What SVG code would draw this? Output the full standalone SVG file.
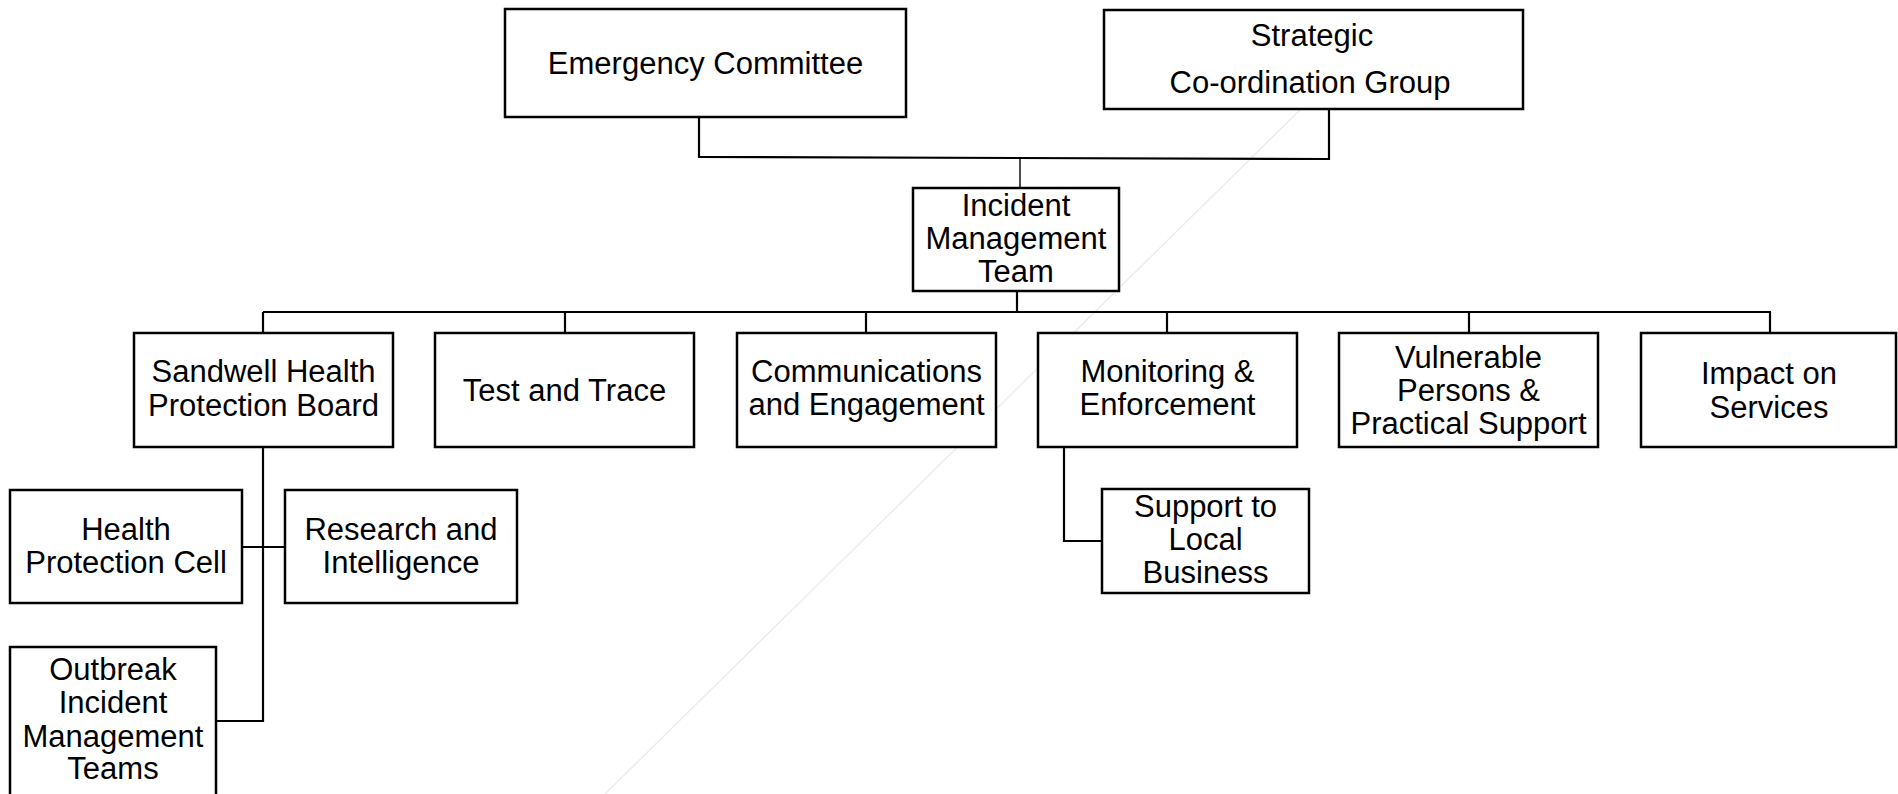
<svg xmlns="http://www.w3.org/2000/svg" width="1898" height="794" viewBox="0 0 1898 794">
<style>
.box{fill:#fff;stroke:#000;stroke-width:2.5}
.t{font-family:"Liberation Sans",Arial,sans-serif;font-size:31px;fill:#000;text-anchor:middle}
.c{fill:none;stroke:#000;stroke-width:2.2}
.thin{fill:none;stroke:#000;stroke-width:1.4}
</style>
<rect width="1898" height="794" fill="#fff"/>
<line x1="1300" y1="110" x2="605" y2="794" stroke="#ececec" stroke-width="1.5"/>
<g id="connectors">
<polyline class="c" points="699,117 699,157 1329,159 1329,109"/>
<line class="thin" x1="1020" y1="158" x2="1020" y2="188"/>
<line class="c" x1="1017" y1="291" x2="1017" y2="312"/>
<line class="c" x1="263" y1="312" x2="1771" y2="312"/>
<line class="c" x1="263" y1="312" x2="263" y2="333"/>
<line class="c" x1="565" y1="312" x2="565" y2="333"/>
<line class="c" x1="866" y1="312" x2="866" y2="333"/>
<line class="c" x1="1167" y1="312" x2="1167" y2="333"/>
<line class="c" x1="1469" y1="312" x2="1469" y2="333"/>
<line class="c" x1="1770" y1="312" x2="1770" y2="333"/>
<line class="c" x1="263" y1="447" x2="263" y2="722"/>
<line class="c" x1="242" y1="547" x2="285" y2="547"/>
<line class="c" x1="216" y1="721" x2="264" y2="721"/>
<polyline class="c" points="1064,446 1064,541 1102,541"/>
</g>
<g id="emergency-committee">
<rect class="box" x="505" y="9" width="401" height="108"/>
<text class="t" x="705.5" y="74">Emergency Committee</text>
</g>
<g id="strategic-coordination-group">
<rect class="box" x="1104" y="10" width="419" height="99"/>
<text class="t" x="1312" y="46">Strategic</text>
<text class="t" x="1310" y="93">Co-ordination Group</text>
</g>
<g id="incident-management-team">
<rect class="box" x="913" y="188" width="206" height="103"/>
<text class="t" x="1016" y="216">Incident</text>
<text class="t" x="1016" y="249">Management</text>
<text class="t" x="1016" y="282">Team</text>
</g>
<g id="sandwell-health-protection-board">
<rect class="box" x="134" y="333" width="259" height="114"/>
<text class="t" x="263.5" y="382">Sandwell Health</text>
<text class="t" x="263.5" y="416">Protection Board</text>
</g>
<g id="test-and-trace">
<rect class="box" x="435" y="333" width="259" height="114"/>
<text class="t" x="564.5" y="401">Test and Trace</text>
</g>
<g id="communications-and-engagement">
<rect class="box" x="737" y="333" width="259" height="114"/>
<text class="t" x="866.5" y="382">Communications</text>
<text class="t" x="866.5" y="415">and Engagement</text>
</g>
<g id="monitoring-and-enforcement">
<rect class="box" x="1038" y="333" width="259" height="114"/>
<text class="t" x="1167.5" y="382">Monitoring &amp;</text>
<text class="t" x="1167.5" y="415">Enforcement</text>
</g>
<g id="vulnerable-persons">
<rect class="box" x="1339" y="333" width="259" height="114"/>
<text class="t" x="1468.5" y="368">Vulnerable</text>
<text class="t" x="1468.5" y="401">Persons &amp;</text>
<text class="t" x="1468.5" y="434">Practical Support</text>
</g>
<g id="impact-on-services">
<rect class="box" x="1641" y="333" width="255" height="114"/>
<text class="t" x="1769" y="384">Impact on</text>
<text class="t" x="1769" y="418">Services</text>
</g>
<g id="health-protection-cell">
<rect class="box" x="10" y="490" width="232" height="113"/>
<text class="t" x="126" y="540">Health</text>
<text class="t" x="126" y="573">Protection Cell</text>
</g>
<g id="research-and-intelligence">
<rect class="box" x="285" y="490" width="232" height="113"/>
<text class="t" x="401" y="540">Research and</text>
<text class="t" x="401" y="573">Intelligence</text>
</g>
<g id="outbreak-incident-management-teams">
<rect class="box" x="10" y="647" width="206" height="160"/>
<text class="t" x="113" y="680">Outbreak</text>
<text class="t" x="113" y="713">Incident</text>
<text class="t" x="113" y="747">Management</text>
<text class="t" x="113" y="779">Teams</text>
</g>
<g id="support-to-local-business">
<rect class="box" x="1102" y="489" width="207" height="104"/>
<text class="t" x="1205.5" y="517">Support to</text>
<text class="t" x="1205.5" y="550">Local</text>
<text class="t" x="1205.5" y="583">Business</text>
</g>
</svg>
